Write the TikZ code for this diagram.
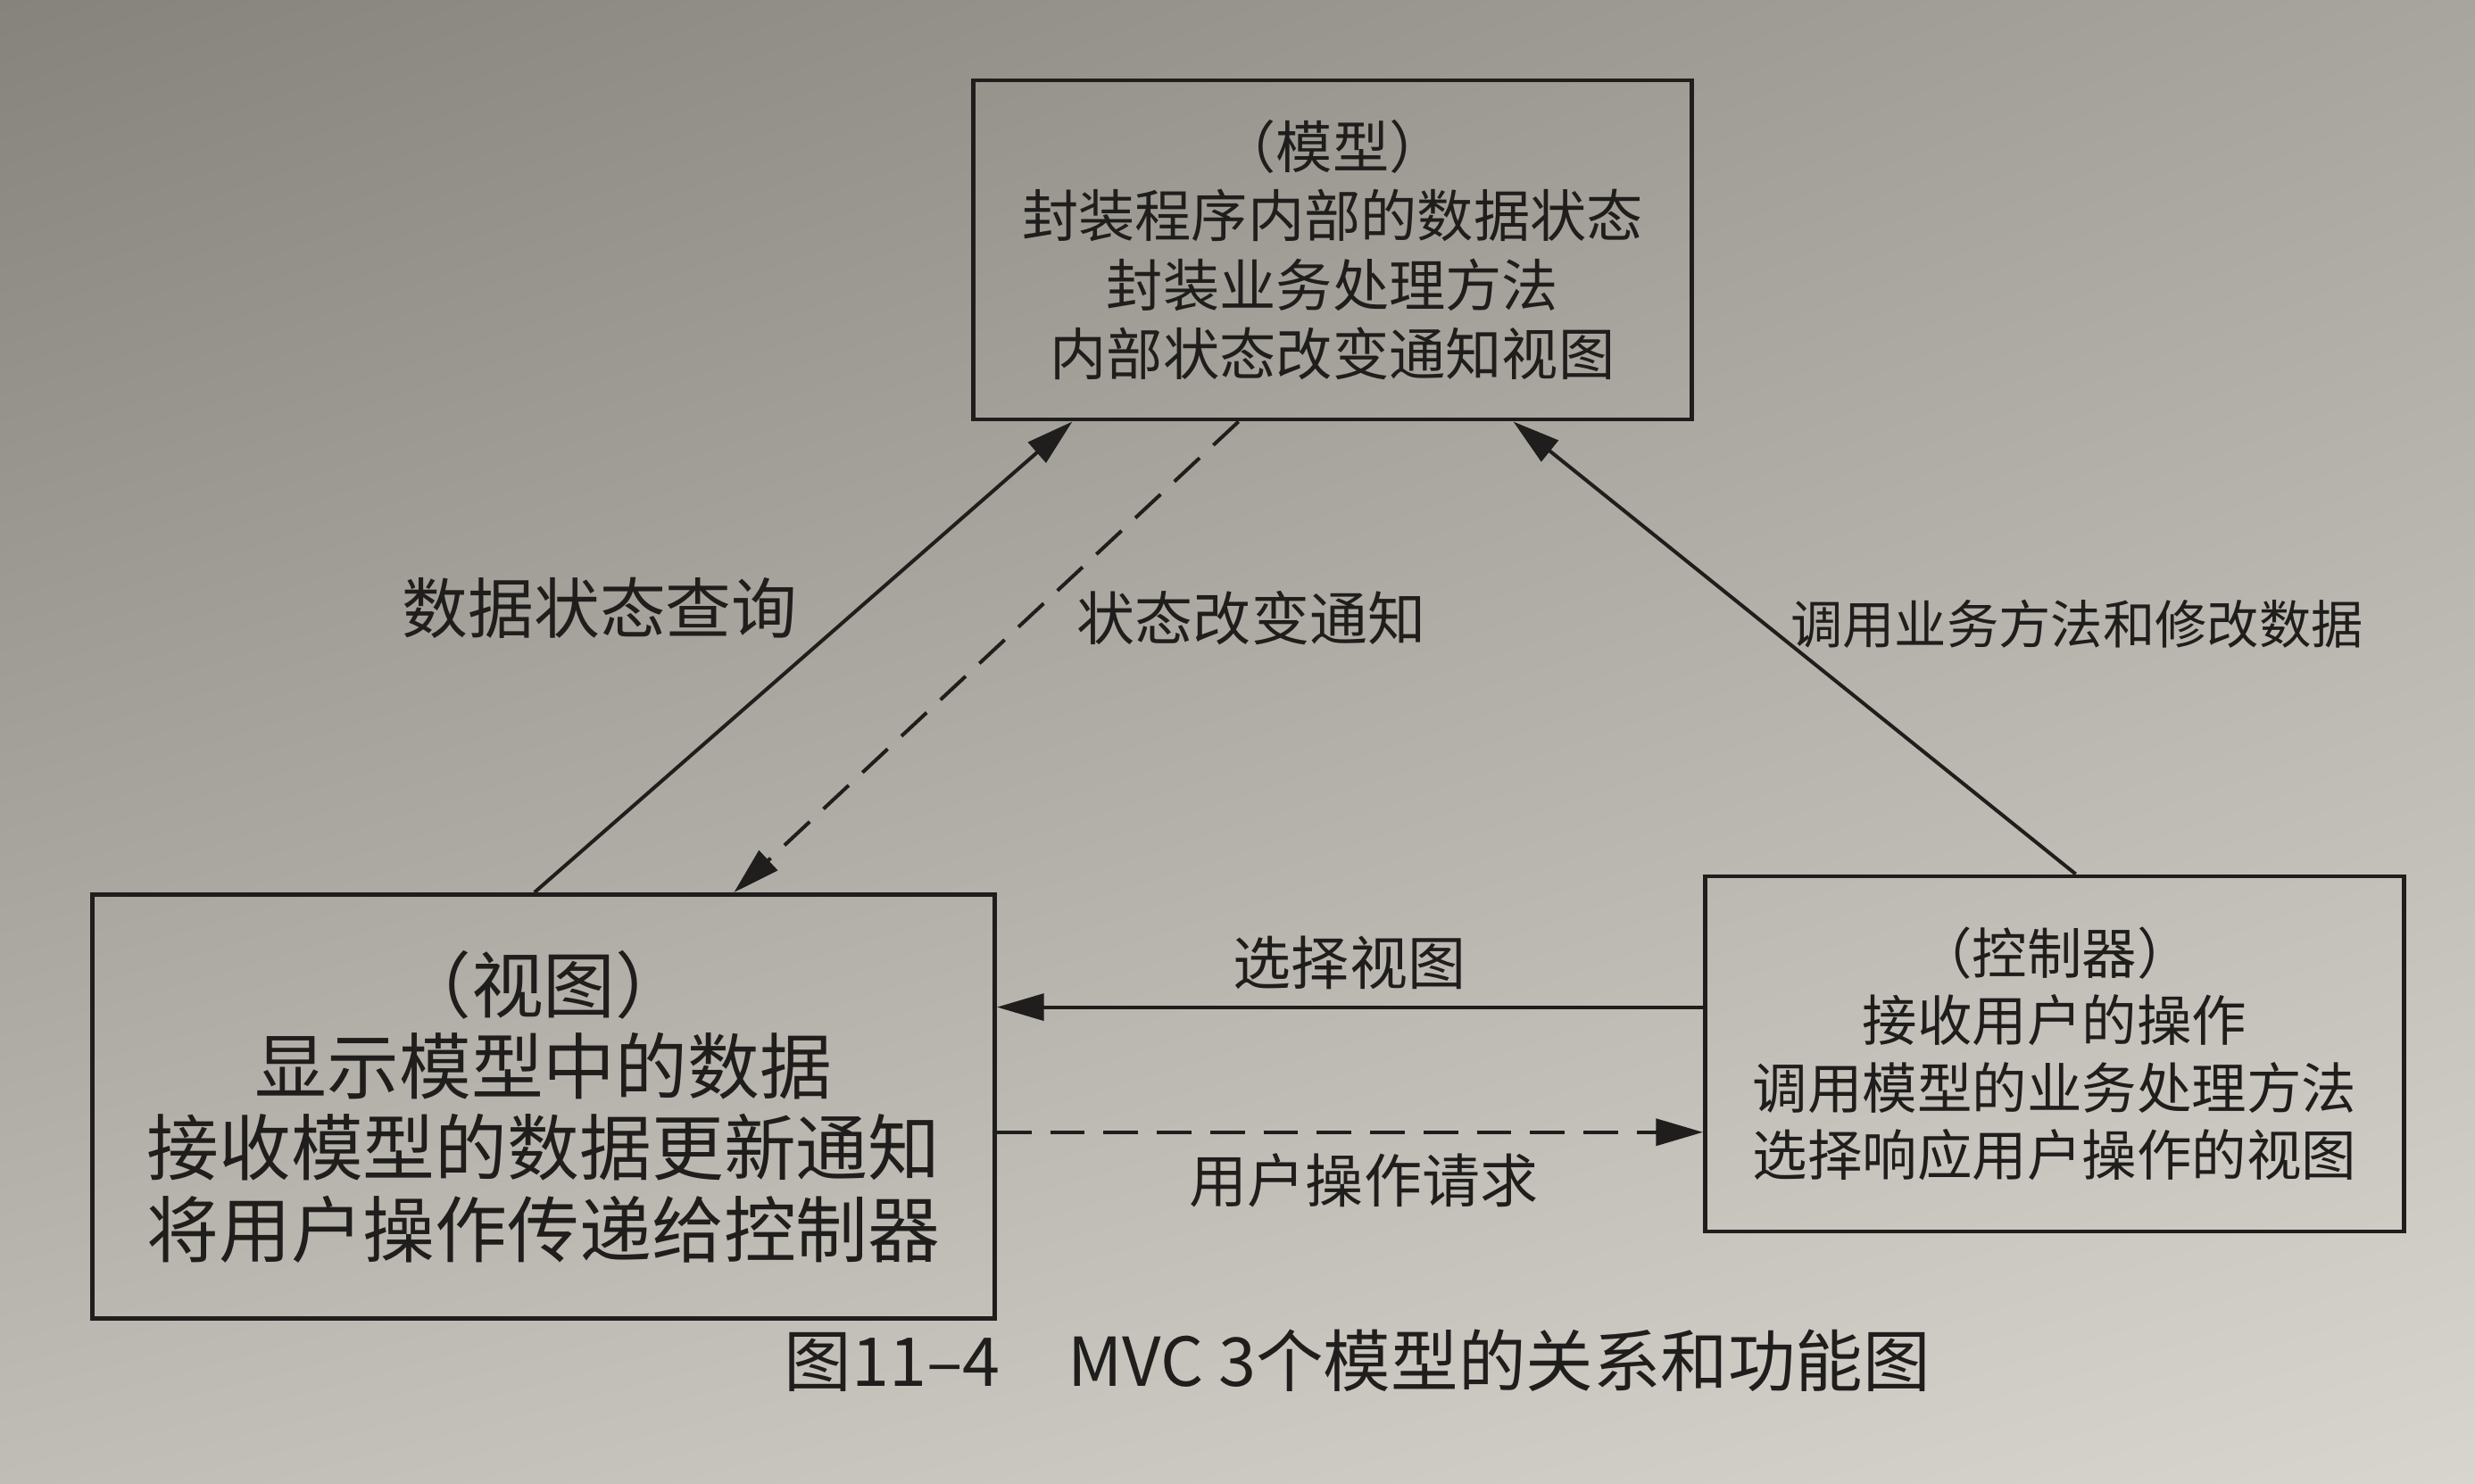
\documentclass[tikz,border=0pt]{standalone}
\usepackage{fontspec}
\setmainfont{Noto Sans CJK SC}
\usetikzlibrary{calc,arrows.meta,shadings}

\definecolor{ink}{RGB}{32,30,28}
\definecolor{paperUL}{RGB}{134,131,124}
\definecolor{paperUR}{RGB}{168,165,158}
\definecolor{paperLL}{RGB}{192,189,182}
\definecolor{paperLR}{RGB}{216,213,207}

\begin{document}
\begin{tikzpicture}[color=ink, line width=1.15pt,
  >={Triangle[length=15pt,width=8.5pt]},
  box/.style={draw, line width=1.4pt, align=center, inner sep=0pt},
  lbl/.style={font=\fontsize{18.5pt}{22pt}\selectfont},
  dashline/.style={dash pattern=on 11pt off 6pt}]
  % 背景（纸面）
  \shade[upper left=paperUL, upper right=paperUR, lower left=paperLL, lower right=paperLR]
    (0,0) rectangle (27.73,16.62);
  \useasboundingbox (0,0) rectangle (27.73,16.62);

  % 三个框
  \node[box, minimum width=8.05cm, minimum height=3.8cm,
    font=\fontsize{18pt}{22pt}\selectfont] (model) at (14.93,13.82)
    {（模型）\\封装程序内部的数据状态\\封装业务处理方法\\内部状态改变通知视图};
  \node[box, minimum width=10.11cm, minimum height=4.75cm,
    font=\fontsize{23pt}{26pt}\selectfont] (view) at (6.09,4.22)
    {（视图）\\显示模型中的数据\\接收模型的数据更新通知\\将用户操作传递给控制器};
  \node[box, minimum width=7.83cm, minimum height=3.98cm,
    font=\fontsize{17.5pt}{21.5pt}\selectfont] (ctrl) at (23.02,4.81)
    {（控制器）\\接收用户的操作\\调用模型的业务处理方法\\选择响应用户操作的视图};

  % 视图 <-> 模型
  \draw[->] ($(view.north west)!0.49!(view.north east)$)
    -- ($(model.south west)!0.14!(model.south east)$);
  \draw[->, dashline] ($(model.south west)!0.37!(model.south east)$)
    -- ($(view.north west)!0.71!(view.north east)$);
  % 控制器 -> 模型
  \draw[->] ($(ctrl.north west)!0.53!(ctrl.north east)$)
    -- ($(model.south west)!0.75!(model.south east)$);

  % 控制器 <-> 视图
  \coordinate (S) at ($(ctrl.north west)!0.37!(ctrl.south west)$);
  \draw[->] (S) -- (S -| view.east);
  \coordinate (R) at ($(view.north east)!0.56!(view.south east)$);
  \draw[->, dashline] (R) -- (R -| ctrl.west);

  \node[lbl, font=\fontsize{21pt}{24pt}\selectfont] (query) at (6.72,9.81) {数据状态查询};
  \node[lbl] (notify) at (14.02,9.69) {状态改变通知};
  \node[lbl, font=\fontsize{16.6pt}{20pt}\selectfont] (invoke) at (23.27,9.63) {调用业务方法和修改数据};
  \node[lbl] (select) at (15.12,5.83) {选择视图};
  \node[lbl] (request) at (15.28,3.39) {用户操作请求};

  % 图题
  \node[font=\fontsize{21.5pt}{24pt}\selectfont] (cap) at (15.21,1.37)
    {图11–4\quad MVC 3个模型的关系和功能图};
\end{tikzpicture}
\end{document}
